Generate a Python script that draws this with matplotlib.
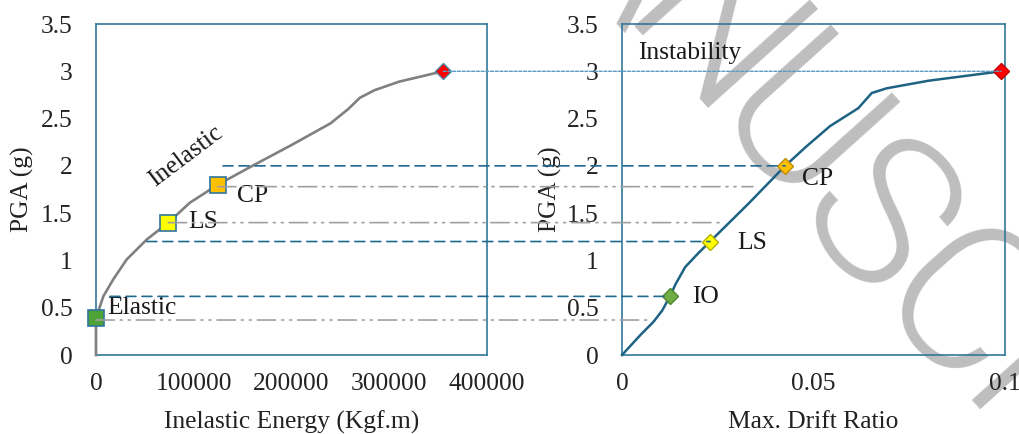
import math
import matplotlib
matplotlib.use("Agg")
import matplotlib.pyplot as plt
from matplotlib.patches import ConnectionPatch

plt.rcParams['font.family'] = ['Liberation Serif', 'DejaVu Serif']

# ---------------- data ----------------
energy = [0, 0, 2000, 7500, 17700, 31400, 51800, 74000, 96000, 124500,
          160000, 200000, 240000, 258000, 270000, 285000, 310000, 355000]
pga_energy = [0, 0.39, 0.45, 0.62, 0.80, 1.01, 1.22, 1.40, 1.61, 1.80,
              2.00, 2.22, 2.45, 2.60, 2.72, 2.80, 2.89, 3.00]

drift = [0, 0.005, 0.0082, 0.0105, 0.0125, 0.014, 0.0165, 0.020, 0.023,
         0.033, 0.0426, 0.048, 0.0543, 0.0617, 0.0652, 0.0691, 0.080, 0.099]
pga_drift = [0, 0.22, 0.35, 0.47, 0.62, 0.75, 0.93, 1.08, 1.20,
             1.60, 2.00, 2.20, 2.42, 2.61, 2.77, 2.82, 2.90, 3.00]

# energy-based levels (left)
e_labels = ['Elastic', 'LS', 'CP']
e_x = [0, 74000, 124500]
e_y = [0.39, 1.40, 1.80]
e_colors = ['#4ea236', '#ffff00', '#ffc000']
e_line_y = [0.37, 1.40, 1.78]
e_line_end = [0.0073, 0.0256, 0.0342]

# drift-based levels (right)
d_labels = ['IO', 'LS', 'CP']
d_x = [0.0125, 0.023, 0.0426]
d_y = [0.62, 1.20, 2.00]
d_colors = ['#70ad47', '#ffff00', '#ffc000']
d_line_start = [14300, 52000, 130000]

inst_e = 355300
inst_d = 0.099
inst_y = 3.0

yticks = [0, 0.5, 1, 1.5, 2, 2.5, 3, 3.5]
ytick_labels = ['0', '0.5', '1', '1.5', '2', '2.5', '3', '3.5']
xticks_e = [0, 100000, 200000, 300000, 400000]
xticks_d = [0, 0.05, 0.1]
xtick_labels_d = ['0', '0.05', '0.1']

# ---------------- figure ----------------
fig = plt.figure(figsize=(10.2, 4.34), dpi=100)
ax1 = fig.add_axes([0.0941, 0.182, 0.3833, 0.7627])
ax2 = fig.add_axes([0.6098, 0.182, 0.3755, 0.7627])

spine_c = '#31799b'
fs = 18.4
for ax in (ax1, ax2):
    ax.set_facecolor('none')
    for s in ax.spines.values():
        s.set_color(spine_c)
        s.set_linewidth(1.2)
    ax.set_ylim(0, 3.5)
    ax.set_yticks(yticks)
    ax.set_yticklabels(ytick_labels)
    ax.tick_params(length=0, labelsize=fs, colors='#222222')
    ax.tick_params(axis='y', pad=17)
    ax.tick_params(axis='x', pad=13)
    ax.set_ylabel('PGA (g)', fontsize=fs, color='#222222')

ax1.set_xlim(0, 400000)
ax1.set_xticks(xticks_e)
ax1.set_xticklabels([str(v) for v in xticks_e])
ax2.set_xlim(0, 0.1)
ax2.set_xticks(xticks_d)
ax2.set_xticklabels(xtick_labels_d)

ax1.set_xlabel('Inelastic Energy (Kgf.m)', fontsize=fs, color='#222222')
ax2.set_xlabel('Max. Drift Ratio', fontsize=fs, color='#222222')
for ax in (ax1, ax2):
    ax.xaxis.set_label_coords(0.5, -0.202)
    ax.xaxis.label.set_va('center')
    ax.yaxis.label.set_va('center')
ax1.yaxis.set_label_coords(-0.189, 0.5)
ax2.yaxis.set_label_coords(-0.188, 0.5)

# curves
ax1.plot(energy, pga_energy, color='#808080', lw=1.9, zorder=3, clip_on=False)
ax2.plot(drift, pga_drift, color='#1f6384', lw=1.8, zorder=3, clip_on=False)

# markers left
for x, y, c in zip(e_x, e_y, e_colors):
    ax1.plot([x], [y], marker='s', ms=11.5, mfc=c, mec='#2f76a0', mew=1.2,
             zorder=5, clip_on=False)
ax1.plot([inst_e], [inst_y], marker='D', ms=8, mfc='#ff0000', mec='#4d84a4',
         mew=1.0, zorder=5, clip_on=False)

# markers right
d_edges = ['#4a8a2c', '#b5b000', '#c08a00']
for x, y, c, ec in zip(d_x, d_y, d_colors, d_edges):
    ax2.plot([x], [y], marker='D', ms=8, mfc=c, mec=ec, mew=1.0,
             zorder=5, clip_on=False)
ax2.plot([inst_d], [inst_y], marker='D', ms=8, mfc='#ff0000', mec='#c00000',
         mew=1.0, zorder=5, clip_on=False)

# texts
tkw = dict(fontsize=fs, color='#1a1a1a')
ax1.text(11250, 0.50, 'Elastic', ha='left', va='center', **tkw)
ax1.text(94100, 1.41, 'LS', ha='left', va='center', **tkw)
ax1.text(144000, 1.68, 'CP', ha='left', va='center', **tkw)
ax1.text(92000, 2.10, 'Inelastic', ha='center', va='center', rotation=37, **tkw)

ax2.text(0.0183, 0.61, 'IO', ha='left', va='center', **tkw)
ax2.text(0.030, 1.18, 'LS', ha='left', va='center', **tkw)
ax2.text(0.047, 1.86, 'CP', ha='left', va='center', **tkw)
ax2.text(0.0042, 3.19, 'Instability', ha='left', va='center', **tkw)

# connecting lines across both panels
def connect(xa, ya, xb, yb, **kw):
    con = ConnectionPatch(xyA=(xa, ya), coordsA=ax1.transData,
                          xyB=(xb, yb), coordsB=ax2.transData, **kw)
    con.set_zorder(2)
    fig.add_artist(con)

connect(inst_e, inst_y, inst_d, inst_y, color='#5b9cc0', lw=1.0,
        linestyle=(0, (2.2, 1.2)))
for xs, y, xr in zip(d_line_start, d_y, d_x):
    connect(xs, y, xr, y, color='#21688f', lw=1.2, linestyle=(0, (6, 3.6)))
for xl, y, xe in zip(e_x, e_line_y, e_line_end):
    connect(xl, y, xe, y, color='#a0a0a0', lw=1.2,
            linestyle=(0, (11, 3.6, 1.2, 3.6, 1.2, 3.6)))

# watermark (letters placed along a diagonal)
wm_letters = 'MANUSCRIPT'
wm_adv = [0.683, 0.547, 0.592, 0.592, 0.547, 0.592, 0.592, 0.228, 0.547, 0.501]
em_px = 214.0
ang = math.radians(48)
bx, by = math.cos(ang), math.sin(ang)      # baseline direction (pixels, y down)
ux, uy = math.sin(ang), -math.cos(ang)     # letter "up" direction
pos = 176.6
for ch, a in zip(wm_letters, wm_adv):
    c = pos + a * em_px / 2
    px = c * bx + 440 * ux
    py = c * by + 440 * uy
    fig.text(px, 434 - py, ch, transform=None, fontsize=150,
             family=['Roboto', 'Liberation Sans'], fontweight=300,
             color='#bebebe', rotation=-48,
             ha='center', va='baseline', zorder=-5, rotation_mode='anchor')
    pos += a * em_px

fig.savefig('out.png', dpi=100)
